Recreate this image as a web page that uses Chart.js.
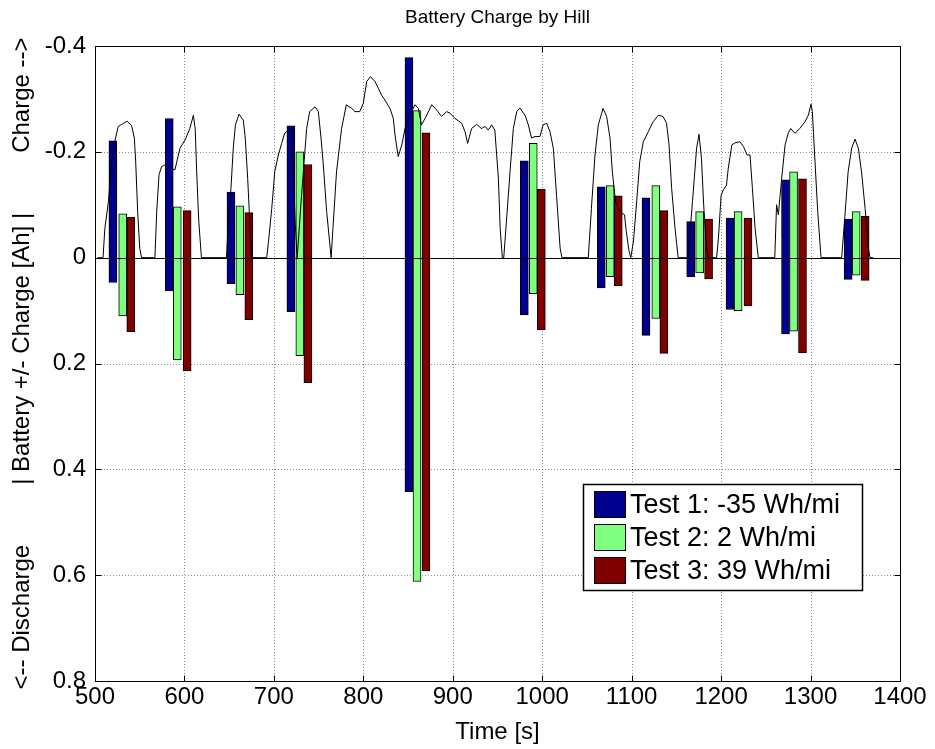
<!DOCTYPE html>
<html>
<head>
<meta charset="utf-8">
<script src="https://cdn.jsdelivr.net/npm/chart.js@4.4.0/dist/chart.umd.min.js"></script>
<style>
  html, body { margin: 0; padding: 0; background: #fff; }
  canvas { display: block; }
</style>
</head>
<body>
<canvas id="grafica_colinas" width="935" height="749"></canvas>
<script>
// tiempos (s) de cada barra por prueba
const tiempos_test1 = [520, 583, 652, 719, 851, 980, 1066, 1116, 1166, 1210, 1272, 1342];
const tiempos_test2 = [531, 592, 662, 729, 860, 990, 1076, 1127, 1176, 1219, 1281, 1351];
const tiempos_test3 = [540, 603, 672, 738, 870, 999, 1085, 1136, 1186, 1230, 1291, 1361];

// carga (negativo = carga) y descarga (positivo) en Ah
const carga_test1    = [-0.221, -0.263, -0.124, -0.249, -0.378, -0.183, -0.134, -0.113, -0.068, -0.075, -0.147, -0.073];
const descarga_test1 = [ 0.047,  0.063,  0.049,  0.102,  0.442,  0.108,  0.057,  0.147,  0.036,  0.098,  0.144,  0.041];
const carga_test2    = [-0.083, -0.096, -0.098, -0.200, -0.278, -0.216, -0.136, -0.136, -0.087, -0.087, -0.162, -0.087];
const descarga_test2 = [ 0.110,  0.193,  0.070,  0.185,  0.612,  0.068,  0.036,  0.115,  0.029,  0.100,  0.139,  0.033];
const carga_test3    = [-0.076, -0.089, -0.085, -0.176, -0.236, -0.129, -0.117, -0.089, -0.073, -0.075, -0.149, -0.078];
const descarga_test3 = [ 0.140,  0.214,  0.117,  0.236,  0.592,  0.136,  0.053,  0.181,  0.040,  0.091,  0.180,  0.043];

const etiquetas_test = ['Test 1: -35 Wh/mi', 'Test 2: 2 Wh/mi', 'Test 3: 39 Wh/mi'];

// perfil de colinas (escalado)
const perfil_tiempo = [503, 509, 511, 515, 518.6, 522, 526, 530, 536, 541, 544, 545.5, 547.7, 550, 552,
  567, 569, 571.6, 574.5, 578, 584, 589.4, 595, 600.6, 606, 610, 612, 613.7, 616, 619,
  647, 649, 652, 654.6, 657, 661, 665.8, 668, 670.7, 673, 675,
  692, 694, 697.6, 701, 705, 708.7, 712, 716, 720, 722, 724, 726,
  731, 736.6, 740, 746, 749.7, 752.7, 755, 759, 764,
  766, 770, 775.7, 781, 787, 790.7, 796, 800, 803.8, 808, 813, 816.8, 820.5, 824, 829.8, 833.5, 835.4, 839, 843, 846.6,
  852, 857.8, 861.5, 865, 869, 876.5, 882, 887.5, 893, 897, 902.5, 910, 913.7, 916.6, 921, 926.7, 932, 936, 939.7, 943.5,
  947, 951, 953, 955.4, 957,
  960, 964, 967.7, 971.5, 975, 980.8, 984.5, 988, 992, 997.5, 1001, 1005, 1008.7, 1012.4, 1016, 1020, 1022,
  1051.5, 1055, 1059, 1062.7, 1066.5, 1068, 1072, 1075.8, 1078.4, 1082, 1087, 1092, 1094, 1097, 1099,
  1102, 1105.6, 1109, 1113, 1118.6, 1124, 1129.8, 1135, 1139, 1141.8, 1144.7, 1148.5, 1152,
  1163, 1168, 1172.6, 1175.3, 1178, 1180.5, 1183.7, 1185.5,
  1195, 1197, 1200, 1202.5, 1206, 1208, 1212, 1215.6, 1221, 1225, 1229, 1232.3, 1235, 1238, 1241.6,
  1260, 1262, 1264, 1267.7, 1271.5, 1275, 1277.8, 1282.6, 1288, 1293.8, 1297.5, 1300.5, 1302, 1305, 1308, 1311.7,
  1334.8, 1338.5, 1342, 1346, 1349.7, 1353.4, 1357, 1361, 1364.6, 1366.5, 1370];
const perfil_ah = [0, 0, -0.055, -0.106, -0.181, -0.219, -0.248, -0.252, -0.258, -0.249, -0.226, -0.181, -0.087, -0.018, 0,
  0, -0.087, -0.157, -0.172, -0.175, -0.169, -0.166, -0.207, -0.222, -0.244, -0.269, -0.244, -0.162, -0.069, 0,
  0, -0.069, -0.131, -0.207, -0.251, -0.271, -0.260, -0.226, -0.150, -0.069, 0,
  0, -0.031, -0.093, -0.163, -0.194, -0.216, -0.235, -0.240, -0.245, -0.150, -0.060, 0,
  -0.119, -0.244, -0.276, -0.285, -0.276, -0.226, -0.181, -0.087, 0,
  -0.055, -0.162, -0.244, -0.289, -0.282, -0.276, -0.276, -0.292, -0.333, -0.342, -0.333, -0.320, -0.307, -0.298, -0.282, -0.263, -0.232, -0.191, -0.213, -0.244,
  -0.270, -0.289, -0.282, -0.251, -0.263, -0.289, -0.279, -0.267, -0.276, -0.273, -0.263, -0.254, -0.238, -0.216, -0.244, -0.252, -0.244, -0.248, -0.241, -0.251,
  -0.241, -0.150, -0.055, 0, 0,
  -0.069, -0.162, -0.244, -0.276, -0.283, -0.269, -0.251, -0.226, -0.229, -0.229, -0.251, -0.254, -0.238, -0.207, -0.118, -0.018, 0,
  0, -0.093, -0.194, -0.251, -0.273, -0.282, -0.267, -0.226, -0.162, -0.106, -0.087, -0.081, -0.049, -0.013, 0,
  -0.031, -0.106, -0.181, -0.219, -0.238, -0.257, -0.269, -0.267, -0.254, -0.213, -0.131, -0.055, 0,
  0, -0.106, -0.207, -0.233, -0.188, -0.100, -0.018, 0,
  0, -0.037, -0.118, -0.128, -0.137, -0.169, -0.213, -0.217, -0.219, -0.210, -0.194, -0.194, -0.131, -0.055, 0,
  0, -0.100, -0.081, -0.150, -0.213, -0.235, -0.244, -0.235, -0.244, -0.257, -0.269, -0.290, -0.276, -0.181, -0.087, 0,
  0, -0.081, -0.162, -0.207, -0.224, -0.207, -0.162, -0.093, -0.018, 0, 0];

const ticks_x = [500, 600, 700, 800, 900, 1000, 1100, 1200, 1300, 1400];
const ticks_y = [-0.4, -0.2, 0, 0.2, 0.4, 0.6, 0.8];

const colores_test = ['#00008f', '#80ff80', '#800000'];
const fuente = '"Liberation Sans", Arial, sans-serif';

function barras(tiempos, carga, descarga) {
  return tiempos.map((t, i) => ({ x: t, y: [carga[i], descarga[i]] }));
}

function dataset_barras(indice, datos) {
  return {
    type: 'bar',
    label: etiquetas_test[indice],
    data: datos,
    backgroundColor: colores_test[indice],
    borderColor: '#000',
    borderWidth: 1,
    borderSkipped: false,
    barThickness: 8,
    grouped: false,
    order: 1
  };
}

// rejilla punteada, caja, marcas interiores, linea base, titulo y leyenda al estilo matlab
const estilo_matlab = {
  id: 'estilo_matlab',
  beforeDatasetsDraw(chart) {
    const { ctx, chartArea: a, scales } = chart;
    ctx.save();
    ctx.strokeStyle = 'rgba(0,0,0,0.45)';
    ctx.lineWidth = 1;
    ctx.setLineDash([1, 2]);
    ticks_x.slice(1, -1).forEach(v => {
      const px = Math.round(scales.x.getPixelForValue(v)) + 0.5;
      ctx.beginPath(); ctx.moveTo(px, a.top); ctx.lineTo(px, a.bottom); ctx.stroke();
    });
    ticks_y.slice(1, -1).forEach(v => {
      if (v === 0) return;
      const py = Math.round(scales.y.getPixelForValue(v)) + 0.5;
      ctx.beginPath(); ctx.moveTo(a.left, py); ctx.lineTo(a.right, py); ctx.stroke();
    });
    ctx.restore();
  },
  afterDatasetsDraw(chart) {
    const { ctx, chartArea: a, scales } = chart;
    ctx.save();
    ctx.strokeStyle = '#000';
    ctx.lineWidth = 1;
    const y0 = Math.round(scales.y.getPixelForValue(0)) + 0.5;
    ctx.beginPath(); ctx.moveTo(a.left, y0); ctx.lineTo(a.right, y0); ctx.stroke();
    const L = Math.round(a.left) + 0.5, R = Math.round(a.right) + 0.5;
    const T = Math.round(a.top) + 0.5, B = Math.round(a.bottom) + 0.5;
    ctx.strokeRect(L, T, R - L, B - T);
    ctx.beginPath();
    ticks_x.forEach(v => {
      const px = Math.round(scales.x.getPixelForValue(v)) + 0.5;
      ctx.moveTo(px, B); ctx.lineTo(px, B - 6);
      ctx.moveTo(px, T); ctx.lineTo(px, T + 6);
    });
    ticks_y.forEach(v => {
      const py = Math.round(scales.y.getPixelForValue(v)) + 0.5;
      ctx.moveTo(L, py); ctx.lineTo(L + 6, py);
      ctx.moveTo(R, py); ctx.lineTo(R - 6, py);
    });
    ctx.stroke();
    ctx.restore();
  },
  afterDraw(chart) {
    const { ctx, chartArea: a } = chart;
    ctx.save();
    ctx.fillStyle = '#000';
    ctx.font = '19px ' + fuente;
    ctx.textAlign = 'center';
    ctx.textBaseline = 'middle';
    ctx.fillText('Battery Charge by Hill', (a.left + a.right) / 2, 18);

    // leyenda
    const lx = 583.5, ly = 484.5, lw = 279, lh = 106;
    ctx.fillStyle = '#fff';
    ctx.fillRect(lx, ly, lw, lh);
    ctx.strokeStyle = '#000';
    ctx.lineWidth = 1.5;
    ctx.strokeRect(lx, ly, lw, lh);
    ctx.lineWidth = 1;
    ctx.font = '27px ' + fuente;
    ctx.textAlign = 'left';
    chart.data.datasets.filter(d => d.type === 'bar').forEach((d, i) => {
      const sy = ly + 7 + i * 33;
      ctx.fillStyle = d.backgroundColor;
      ctx.fillRect(594.5, sy, 31, 26);
      ctx.strokeRect(594.5, sy, 31, 26);
      ctx.fillStyle = '#000';
      ctx.fillText(d.label, 630, sy + 14);
    });
    ctx.restore();
  }
};

new Chart(document.getElementById('grafica_colinas').getContext('2d'), {
  type: 'bar',
  data: {
    datasets: [
      dataset_barras(0, barras(tiempos_test1, carga_test1, descarga_test1)),
      dataset_barras(1, barras(tiempos_test2, carga_test2, descarga_test2)),
      dataset_barras(2, barras(tiempos_test3, carga_test3, descarga_test3)),
      {
        type: 'line',
        label: 'perfil',
        data: perfil_tiempo.map((t, i) => ({ x: t, y: perfil_ah[i] })),
        borderColor: '#000',
        borderWidth: 1,
        pointRadius: 0,
        tension: 0,
        fill: false,
        order: 0
      }
    ]
  },
  options: {
    responsive: false,
    animation: false,
    devicePixelRatio: 1,
    layout: { padding: { top: 46, right: 35, left: 0, bottom: 0 } },
    plugins: {
      legend: { display: false },
      tooltip: { enabled: false },
      title: { display: false }
    },
    scales: {
      x: {
        type: 'linear',
        offset: false,
        min: 500,
        max: 1400,
        grid: { display: false, drawTicks: false, offset: false },
        border: { display: false },
        ticks: {
          stepSize: 100,
          padding: 2,
          color: '#000',
          maxRotation: 0,
          autoSkip: false,
          font: { family: fuente, size: 24 },
          callback: (v) => String(v)
        },
        title: {
          display: true,
          text: 'Time [s]',
          color: '#000',
          font: { family: fuente, size: 24 },
          padding: { top: 0, bottom: 2 }
        },
        afterFit: (s) => { s.height = 68; }
      },
      y: {
        type: 'linear',
        reverse: true,
        min: -0.4,
        max: 0.8,
        grid: { display: false, drawTicks: false },
        border: { display: false },
        ticks: {
          stepSize: 0.2,
          padding: 9,
          color: '#000',
          font: { family: fuente, size: 24 },
          callback: (v) => String(parseFloat(Number(v).toFixed(1)))
        },
        title: {
          display: true,
          text: '<-- Discharge         | Battery +/- Charge [Ah] |         Charge -->',
          color: '#000',
          font: { family: fuente, size: 24 },
          padding: { top: 8, bottom: 0 }
        },
        afterFit: (s) => { s.width = 95; }
      }
    }
  },
  plugins: [estilo_matlab]
});
</script>
</body>
</html>
